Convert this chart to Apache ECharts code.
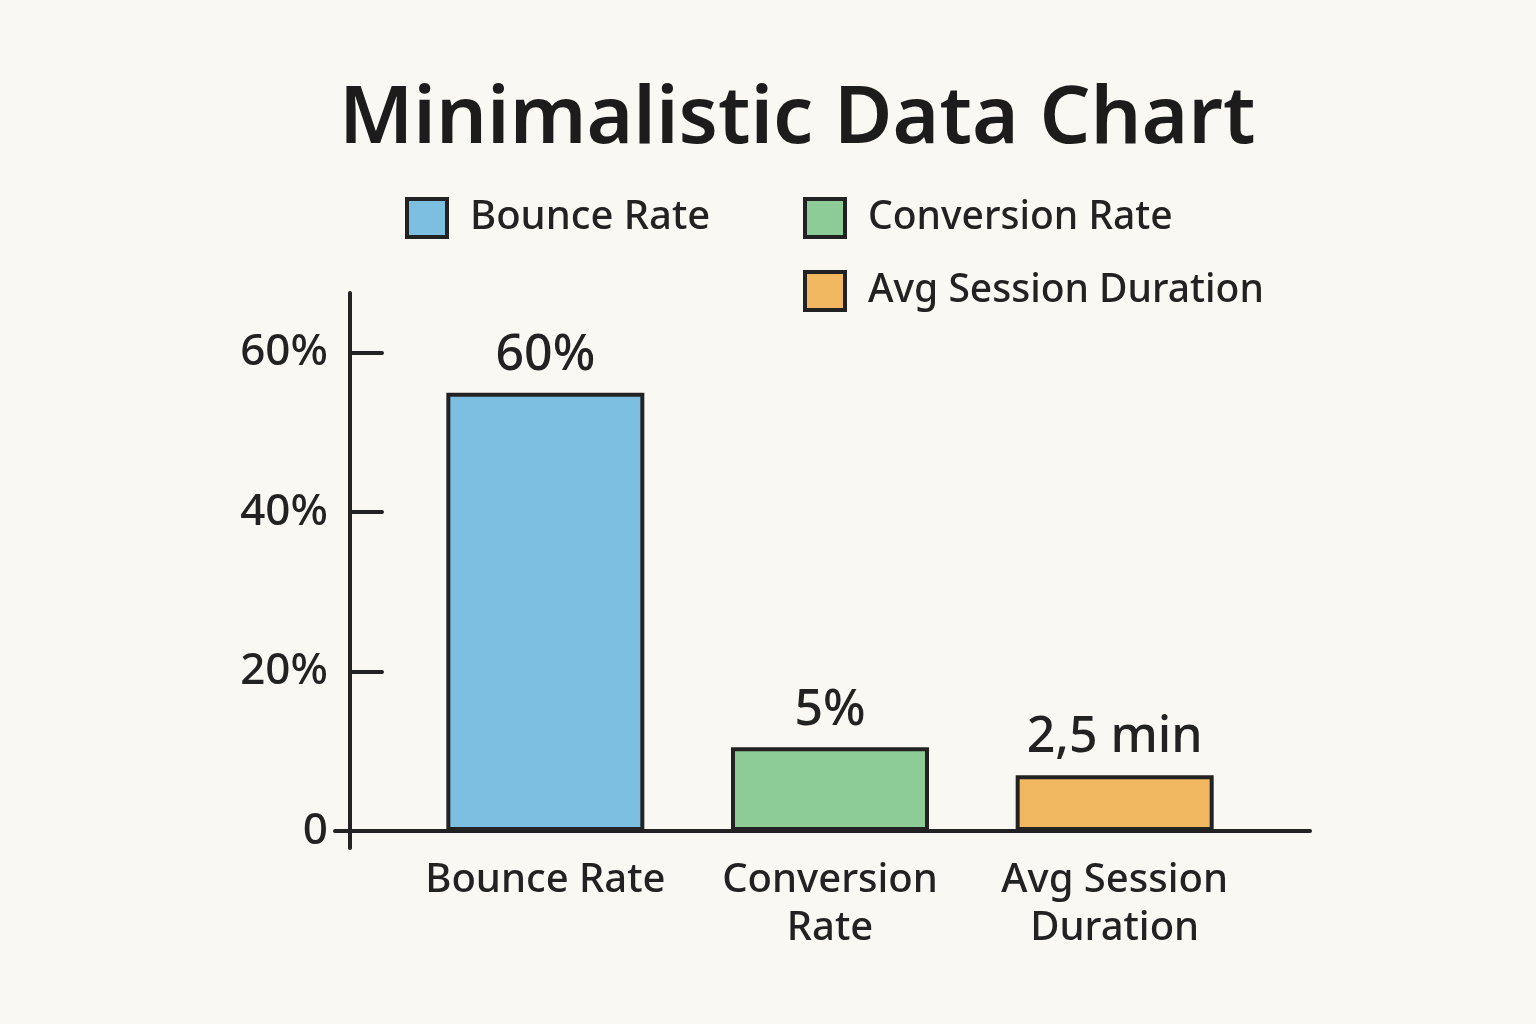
<!DOCTYPE html>
<html>
<head>
<meta charset="utf-8">
<script src="https://cdn.jsdelivr.net/npm/echarts@6/dist/echarts.min.js"></script>
<style>
html,body{margin:0;padding:0;background:#FAF8F3;}
#c{width:1536px;height:1024px;}
</style>
</head>
<body>
<div id="c"></div>
<script>
const categories = ['Bounce Rate', 'Conversion Rate', 'Avg Session Duration'];
const categoryLabels = ['Bounce Rate', 'Conversion\nRate', 'Avg Session\nDuration'];
const barValues = [55, 10.5, 7];
const barLabels = ['60%', '5%', '2,5 min'];
const yTicks = [0, 20, 40, 60];
const yTickLabels = ['0', '20%', '40%', '60%'];
const colors = ['#7DBFE1', '#8DCB97', '#F1B761'];

const FONT = '"Noto Sans", sans-serif';
const INK = '#222222';

const series = categories.map((name, i) => ({
  name: name,
  type: 'bar',
  xAxisIndex: 0,
  yAxisIndex: 0,
  barWidth: 198,
  barGap: '-100%',
  data: categories.map((c, j) => (j === i ? barValues[j] : '-')),
  itemStyle: { color: colors[i], borderColor: INK, borderWidth: 4 },
  label: {
    show: true,
    position: 'top',
    distance: 12,
    formatter: (p) => barLabels[p.dataIndex],
    fontFamily: FONT,
    fontSize: 50,
    fontWeight: 500,
    color: INK
  }
}));

const chart = echarts.init(document.getElementById('c'), null, { renderer: 'canvas' });
chart.setOption({
  backgroundColor: '#FAF8F3',
  animation: false,
  title: {
    text: 'Minimalistic Data Chart',
    left: 334,
    top: 75,
    textStyle: { fontFamily: FONT, fontSize: 80, fontWeight: 600, color: '#1c1c1c' }
  },
  legend: [
    {
      data: ['Bounce Rate'],
      left: 405, top: 197, padding: 0,
      itemWidth: 40, itemHeight: 38,
      icon: 'rect',
      itemStyle: { borderColor: INK, borderWidth: 4 },
      textStyle: { fontFamily: FONT, fontSize: 40, fontWeight: 500, color: INK, padding: [0, 0, 0, 18] }
    },
    {
      data: ['Conversion Rate', 'Avg Session Duration'],
      left: 803, top: 197, padding: 0,
      orient: 'vertical',
      itemGap: 31,
      itemWidth: 40, itemHeight: 38,
      icon: 'rect',
      itemStyle: { borderColor: INK, borderWidth: 4 },
      textStyle: { fontFamily: FONT, fontSize: 39, fontWeight: 500, color: INK, padding: [0, 0, 0, 18] }
    }
  ],
  grid: [
    { left: 403, right: 279, top: 293, bottom: 193 },
    { left: 335, right: 226, top: 293, bottom: 176 }
  ],
  xAxis: [
    {
      type: 'category', gridIndex: 0, data: categoryLabels,
      axisLine: { show: false }, axisTick: { show: false },
      axisLabel: { fontFamily: FONT, fontSize: 40, fontWeight: 500, color: INK, margin: 26, lineHeight: 48, interval: 0 }
    },
    {
      type: 'value', gridIndex: 1, min: -1, max: 64,
      axisLine: { show: true, onZero: true, lineStyle: { color: INK, width: 4, cap: 'round' } },
      axisTick: { show: false }, axisLabel: { show: false }, splitLine: { show: false }
    }
  ],
  yAxis: [
    { type: 'value', gridIndex: 0, min: 0, max: 67.5, show: false },
    {
      type: 'value', gridIndex: 1, min: -2.13, max: 67.5,
      axisLine: { show: true, onZero: true, lineStyle: { color: INK, width: 4, cap: 'round' } },
      axisTick: { show: true, inside: true, length: 32, customValues: yTicks, lineStyle: { color: INK, width: 4, cap: 'round' } },
      axisLabel: {
        show: true, customValues: yTicks, margin: 7,
        formatter: (v) => yTickLabels[yTicks.indexOf(v)] || '',
        fontFamily: FONT, fontSize: 44, fontWeight: 500, color: INK
      },
      splitLine: { show: false }
    }
  ],
  series: series
});
</script>
</body>
</html>
